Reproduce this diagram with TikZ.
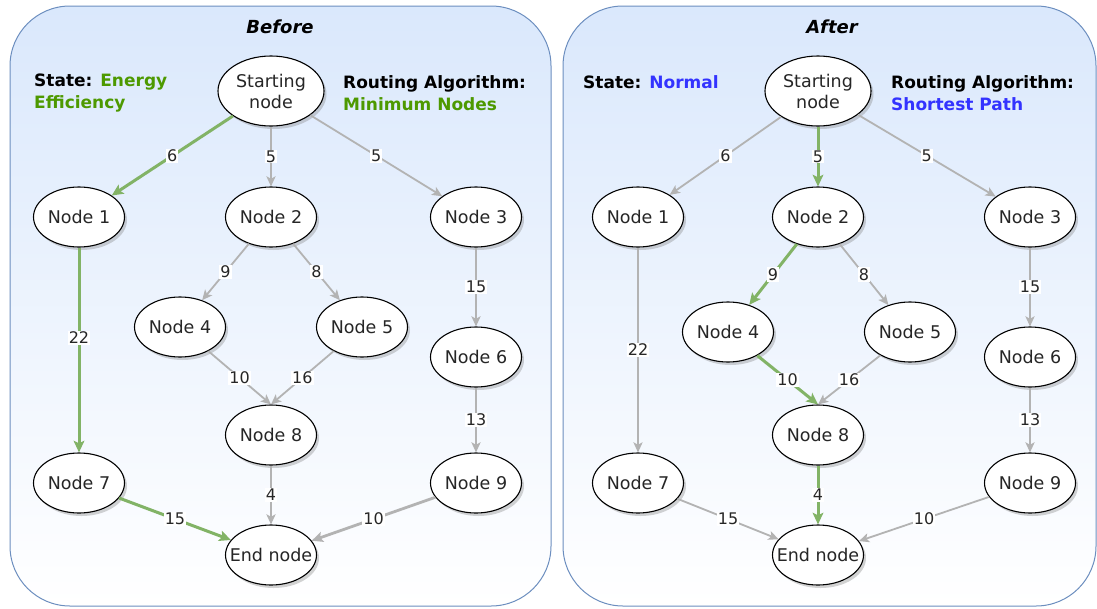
\documentclass[tikz,border=0pt]{standalone}
\usepackage{fontspec}
\setmainfont{DejaVu Sans}
\usetikzlibrary{shapes.geometric,arrows.meta,shadows}
\definecolor{panelfill}{HTML}{DAE8FC}
\definecolor{panelline}{HTML}{6C8EBF}
\definecolor{pathgreen}{HTML}{82B366}
\definecolor{edgegray}{HTML}{B3B3B3}
\definecolor{stategreen}{HTML}{4D9900}
\definecolor{stateblue}{HTML}{3333FF}
\tikzset{
  panel/.style={draw=panelline, line width=1pt, rounded corners=60pt,
    top color=panelfill, bottom color=white},
  nd/.style={ellipse, draw=black, line width=1.1pt, fill=white,
    minimum width=91pt, minimum height=60pt, inner sep=0pt,
    drop shadow={shadow xshift=2.5pt, shadow yshift=-3pt, opacity=.35}},
  ndtxt/.style={font=\fontsize{17.5}{21}\selectfont, text=black!85,
    align=center, inner sep=0pt},
  link/.style={draw=edgegray, line width=1.8pt,
    -{Stealth[length=8pt 1.2, width=7pt 1.2, inset=2.5pt]}},
  hot/.style={draw=pathgreen, line width=3pt},
  wt/.style={fill=white, font=\fontsize{16}{16}\selectfont, inner sep=1pt,
    text=black!85, pos=0.5},
  title/.style={font=\fontsize{18}{18}\selectfont\bfseries\itshape},
  info/.style={font=\fontsize{17}{22}\selectfont\bfseries, align=left,
    anchor=west, inner sep=0pt},
}
\begin{document}
\begin{tikzpicture}[x=1pt, y=-1pt]
\useasboundingbox (0,0) rectangle (1097,608);

% the two panels
\path[panel] (10,6) rectangle (551,606);
\path[panel] (563,6) rectangle (1096,606);

% ---------------- Before ----------------
\node[title] (tb) at (280,27) {Before};
\node[info] (sb) at (34,93) {State: \textcolor{stategreen}{Energy}\\\textcolor{stategreen}{Efficiency}};
\node[info] (rb) at (343,93) {Routing Algorithm:\\\textcolor{stategreen}{Minimum Nodes}};

\node[nd, minimum width=106pt, minimum height=70pt,
  label={[ndtxt]center:Starting\\node}] (bs) at (271,91) {};
\node[nd, label={[ndtxt]center:Node 1}] (b1) at (79,217) {};
\node[nd, label={[ndtxt]center:Node 2}] (b2) at (271,217) {};
\node[nd, label={[ndtxt]center:Node 3}] (b3) at (476,217) {};
\node[nd, label={[ndtxt]center:Node 4}] (b4) at (180,327) {};
\node[nd, label={[ndtxt]center:Node 5}] (b5) at (362,327) {};
\node[nd, label={[ndtxt]center:Node 6}] (b6) at (476,357) {};
\node[nd, label={[ndtxt]center:Node 8}] (b8) at (271,435) {};
\node[nd, label={[ndtxt]center:Node 7}] (b7) at (79,483) {};
\node[nd, label={[ndtxt]center:Node 9}] (b9) at (476,483) {};
\node[nd, label={[ndtxt]center:End node}] (be) at (271,555) {};

\draw[link,hot] (bs) -- (b1) node[wt] {6};
\draw[link] (bs) -- (b2) node[wt] {5};
\draw[link] (bs) -- (b3) node[wt] {5};
\draw[link] (b2) -- (b4) node[wt] {9};
\draw[link] (b2) -- (b5) node[wt] {8};
\draw[link] (b4) -- (b8.north) node[wt] {10};
\draw[link] (b5) -- (b8.north) node[wt] {16};
\draw[link] (b3) -- (b6) node[wt] {15};
\draw[link] (b6) -- (b9) node[wt] {13};
\draw[link,hot] (b1) -- (b7) node[wt, pos=0.44] {22};
\draw[link] (b8) -- (be) node[wt] {4};
\draw[link,hot] (b7) -- (be) node[wt] {15};
\draw[link, line width=2.8pt] (b9) -- (be) node[wt] {10};

% ---------------- After ----------------
\node[title] (ta) at (832,27) {After};
\node[info, anchor=west] (sa) at (583,82) {State: \textcolor{stateblue}{Normal}};
\node[info] (ra) at (891,93) {Routing Algorithm:\\\textcolor{stateblue}{Shortest Path}};

\node[nd, minimum width=106pt, minimum height=70pt,
  label={[ndtxt]center:Starting\\node}] (as) at (818,91) {};
\node[nd, label={[ndtxt]center:Node 1}] (a1) at (638,217) {};
\node[nd, label={[ndtxt]center:Node 2}] (a2) at (818,217) {};
\node[nd, label={[ndtxt]center:Node 3}] (a3) at (1030,217) {};
\node[nd, label={[ndtxt]center:Node 4}] (a4) at (728,332) {};
\node[nd, label={[ndtxt]center:Node 5}] (a5) at (910,332) {};
\node[nd, label={[ndtxt]center:Node 6}] (a6) at (1030,357) {};
\node[nd, label={[ndtxt]center:Node 8}] (a8) at (818,435) {};
\node[nd, label={[ndtxt]center:Node 7}] (a7) at (638,483) {};
\node[nd, label={[ndtxt]center:Node 9}] (a9) at (1030,483) {};
\node[nd, label={[ndtxt]center:End node}] (ae) at (818,555) {};

\draw[link] (as) -- (a1) node[wt] {6};
\draw[link,hot] (as) -- (a2) node[wt] {5};
\draw[link] (as) -- (a3) node[wt] {5};
\draw[link,hot] (a2) -- (a4) node[wt] {9};
\draw[link] (a2) -- (a5) node[wt] {8};
\draw[link,hot] (a4) -- (a8.north) node[wt] {10};
\draw[link] (a5) -- (a8.north) node[wt] {16};
\draw[link] (a3) -- (a6) node[wt] {15};
\draw[link] (a6) -- (a9) node[wt] {13};
\draw[link] (a1) -- (a7) node[wt] {22};
\draw[link,hot] (a8) -- (ae) node[wt] {4};
\draw[link] (a7) -- (ae) node[wt] {15};
\draw[link] (a9) -- (ae) node[wt] {10};
\end{tikzpicture}
\end{document}
